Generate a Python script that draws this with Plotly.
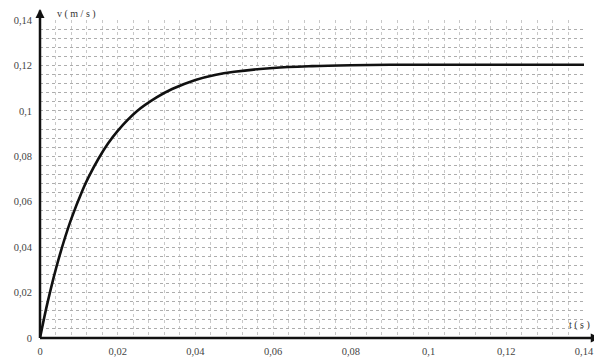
import plotly.graph_objects as go

# Data
t_values = [0, 0.002, 0.005, 0.008, 0.011, 0.0125, 0.015, 0.0175, 0.02, 0.025,
            0.03, 0.034, 0.04, 0.045, 0.05, 0.06, 0.07, 0.08, 0.09, 0.10,
            0.11, 0.12, 0.13, 0.14]
v_values = [0, 0.0160, 0.0360, 0.0522, 0.0653, 0.0708, 0.0788, 0.0856, 0.0912, 0.0999,
            0.1059, 0.1096, 0.1136, 0.1158, 0.1172, 0.1189, 0.1197, 0.1201, 0.1203, 0.1203,
            0.1203, 0.1203, 0.1203, 0.1203]

tick_vals = [0, 0.02, 0.04, 0.06, 0.08, 0.1, 0.12, 0.14]
tick_text = ["0", "0,02", "0,04", "0,06", "0,08", "0,1", "0,12", "0,14"]

serif = "Liberation Serif"
ink = "#111111"

fig = go.Figure()
fig.add_trace(go.Scatter(
    x=t_values, y=v_values, mode="lines",
    line=dict(color=ink, width=2.6, shape="spline", smoothing=1.0),
    showlegend=False, hoverinfo="skip",
))


def axis_style(gridcolor):
    return dict(
        showgrid=True, gridcolor=gridcolor, gridwidth=1, griddash="dot",
        zeroline=False, showline=False, ticks="",
        tickfont=dict(family=serif, size=10.5, color="#444444"),
        tickvals=tick_vals, ticktext=tick_text,
        range=[0, 0.14], fixedrange=True, automargin=False,
        minor=dict(dtick=0.004, tick0=0, showgrid=True, gridcolor=gridcolor,
                   gridwidth=1, griddash="dot"),
    )


# The page body has an 8px margin, so the figure is sized/offset to compensate.
fig.update_layout(
    width=594, height=352,
    margin=dict(l=32, r=18, t=12, b=22),
    paper_bgcolor="white", plot_bgcolor="white",
    xaxis=dict(**axis_style("#c8c8c8"), ticklabelstandoff=5),
    yaxis=dict(**axis_style("#adadad"), ticklabelstandoff=7),
)

# Axis lines (extending past the plot area, as in the reference)
fig.add_shape(type="line", xref="paper", yref="paper", x0=0, y0=0, x1=0, y1=1.03,
              line=dict(color=ink, width=2.5))
fig.add_shape(type="line", xref="paper", yref="paper", x0=0, y0=0, x1=1.02, y1=0,
              line=dict(color=ink, width=2.5))
# Arrow heads
fig.add_annotation(x=0, y=1.043, xref="paper", yref="paper", ax=0, ay=14,
                   text="", showarrow=True, arrowhead=2, arrowsize=0.9,
                   arrowwidth=2, arrowcolor=ink)
fig.add_annotation(x=1.029, y=0, xref="paper", yref="paper", ax=-14, ay=0,
                   text="", showarrow=True, arrowhead=2, arrowsize=0.9,
                   arrowwidth=2, arrowcolor=ink)

# Axis titles
fig.add_annotation(x=0.028, y=1.019, xref="paper", yref="paper", text="v ( m / s )",
                   showarrow=False, xanchor="left", yanchor="middle",
                   font=dict(family=serif, size=10, color="#333333"))
fig.add_annotation(x=1.015, y=0.04, xref="paper", yref="paper", text="t ( s )",
                   showarrow=False, xanchor="right", yanchor="middle",
                   font=dict(family=serif, size=10, color="#333333"))

fig.write_html("out.html")
